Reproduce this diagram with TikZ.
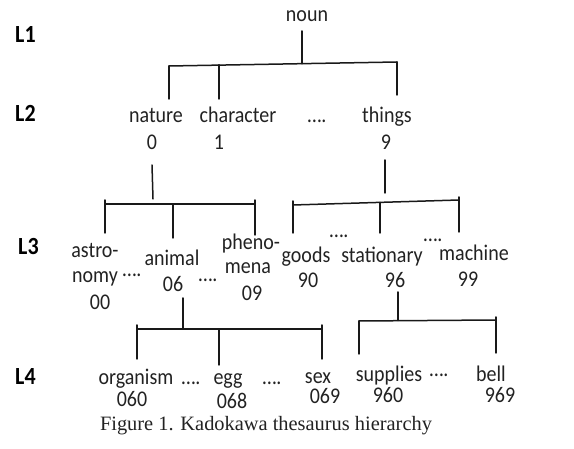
\documentclass[tikz,border=0pt]{standalone}
\usepackage{fontspec}
\setmainfont{Carlito}
\newfontfamily\capfont{Liberation Serif}
\definecolor{txt}{HTML}{222222}
% tall text: labels are set slightly stretched vertically
\newcommand\tall[1]{\scalebox{1}[1.12]{#1}}
\begin{document}
\begin{tikzpicture}[x=1pt,y=-1pt,
  lbl/.style={font=\fontsize{20}{20}\selectfont, text=txt, inner sep=0pt, anchor=base},
  lvl/.style={font=\bfseries\fontsize{22}{22}\selectfont, text=black, inner sep=0pt, anchor=base west},
  link/.style={line width=1.5pt, draw=black!90, line cap=round}]
\useasboundingbox (0,0) rectangle (574,449);

% level labels
\node[lvl] (L1) at (15,43) {\tall{L1}};
\node[lvl] (L2) at (15,122) {\tall{L2}};
\node[lvl] (L3) at (18,255) {\tall{L3}};
\node[lvl] (L4) at (15,385) {\tall{L4}};

% level 1 and 2
\node[lbl] (noun) at (307,22) {\tall{noun}};
\node[lbl] (nature) at (156,123) {\tall{nature}};
\node[lbl] (character) at (238,123) {\tall{character}};
\node[lbl] (dotsA) at (317,123) {\tall{….}};
\node[lbl] (things) at (387,123) {\tall{things}};
\node[lbl] (n0) at (152,150) {\tall{0}};
\node[lbl] (n1) at (219,150) {\tall{1}};
\node[lbl] (n9) at (386,150) {\tall{9}};

% level 3
\node[lbl] (astro) at (95,258) {\tall{astro-}};
\node[lbl] (nomy) at (95,283) {\tall{nomy}};
\node[lbl] (n00) at (100,310) {\tall{00}};
\node[lbl] (dotsB) at (132,277) {\tall{….}};
\node[lbl] (animal) at (172,266) {\tall{animal}};
\node[lbl] (n06) at (173,292) {\tall{06}};
\node[lbl] (dotsC) at (208,282) {\tall{….}};
\node[lbl] (pheno) at (251,250) {\tall{pheno-}};
\node[lbl] (mena) at (248,274) {\tall{mena}};
\node[lbl] (n09) at (252,301) {\tall{09}};
\node[lbl] (goods) at (306,263) {\tall{goods}};
\node[lbl] (n90) at (308,288) {\tall{90}};
\node[lbl] (dotsD) at (339,238) {\tall{….}};
\node[lbl] (stationary) at (382,263) {\tall{stationary}};
\node[lbl] (n96) at (395,288) {\tall{96}};
\node[lbl] (dotsE) at (433,242) {\tall{….}};
\node[lbl] (machine) at (474,261) {\tall{machine}};
\node[lbl] (n99) at (468,287) {\tall{99}};

% level 4
\node[lbl] (organism) at (136,385) {\tall{organism}};
\node[lbl] (dotsF) at (191,385) {\tall{….}};
\node[lbl] (egg) at (228,385) {\tall{egg}};
\node[lbl] (dotsG) at (272,385) {\tall{….}};
\node[lbl] (sex) at (318,384) {\tall{sex}};
\node[lbl] (n060) at (132,407) {\tall{060}};
\node[lbl] (n068) at (232,409) {\tall{068}};
\node[lbl] (n069) at (325,404) {\tall{069}};
\node[lbl] (supplies) at (389,382) {\tall{supplies}};
\node[lbl] (dotsH) at (439,377) {\tall{….}};
\node[lbl] (bell) at (491,382) {\tall{bell}};
\node[lbl] (n960) at (388,403) {\tall{960}};
\node[lbl] (n969) at (500,403) {\tall{969}};

% caption
\node[anchor=base, inner sep=0pt, text=txt, font=\capfont\fontsize{20.4}{20.4}\selectfont] (caption) at (266,431) {Figure 1. Kadokawa thesaurus hierarchy};

% noun -> level 2
\coordinate (nounS) at (302,31);
\coordinate (nounJ) at (302,63.7);
\coordinate (barAl) at (169,66);
\coordinate (barAr) at (397,62);
\coordinate (tNature) at (169,99);
\coordinate (jChar) at (219,64.8);
\coordinate (tChar) at (219,99);
\coordinate (tThings) at (397,95);
\draw[link] (nounS) -- (nounJ);
\draw[link] (barAl) -- (barAr);
\draw[link] (barAl) -- (tNature);
\draw[link] (jChar) -- (tChar);
\draw[link] (barAr) -- (tThings);

% nature -> level 3
\coordinate (natS) at (152,165);
\coordinate (natJ) at (153,199);
\coordinate (barBl) at (105,204);
\coordinate (barBr) at (255,204);
\coordinate (topBl) at (105,200);
\coordinate (tAstro) at (105,233);
\coordinate (jAnimal) at (173,204);
\coordinate (tAnimal) at (173,238);
\coordinate (topBr) at (255,200);
\coordinate (tPheno) at (255,235);
\draw[link] (natS) -- (natJ);
\draw[link] (barBl) -- (barBr);
\draw[link] (topBl) -- (tAstro);
\draw[link] (jAnimal) -- (tAnimal);
\draw[link] (topBr) -- (tPheno);

% things -> level 3
\coordinate (thS) at (385,160);
\coordinate (thJ) at (385,193);
\coordinate (barCl) at (293,205);
\coordinate (barCr) at (459,200);
\coordinate (topCl) at (293,201);
\coordinate (tGoods) at (293,233);
\coordinate (jStat) at (380,202.4);
\coordinate (tStat) at (380,233);
\coordinate (topCr) at (459,197);
\coordinate (tMach) at (459,232);
\draw[link] (thS) -- (thJ);
\draw[link] (barCl) -- (barCr);
\draw[link] (topCl) -- (tGoods);
\draw[link] (jStat) -- (tStat);
\draw[link] (topCr) -- (tMach);

% animal -> level 4
\coordinate (anS) at (183,298);
\coordinate (anJ) at (183,328);
\coordinate (barDl) at (137,329);
\coordinate (barDr) at (322,329);
\coordinate (topDl) at (137,325);
\coordinate (tOrg) at (137,359);
\coordinate (jEgg) at (219,329);
\coordinate (tEgg) at (219,365);
\coordinate (topDr) at (322,325);
\coordinate (tSex) at (322,359);
\draw[link] (anS) -- (anJ);
\draw[link] (barDl) -- (barDr);
\draw[link] (topDl) -- (tOrg);
\draw[link] (jEgg) -- (tEgg);
\draw[link] (topDr) -- (tSex);

% stationary -> level 4
\coordinate (stS) at (398,292);
\coordinate (stJ) at (398,320.5);
\coordinate (barEl) at (359,321);
\coordinate (barEr) at (496,320);
\coordinate (tSupp) at (359,354);
\coordinate (topEr) at (496,317);
\coordinate (tBell) at (496,353);
\draw[link] (stS) -- (stJ);
\draw[link] (barEl) -- (barEr);
\draw[link] (barEl) -- (tSupp);
\draw[link] (topEr) -- (tBell);
\end{tikzpicture}
\end{document}
